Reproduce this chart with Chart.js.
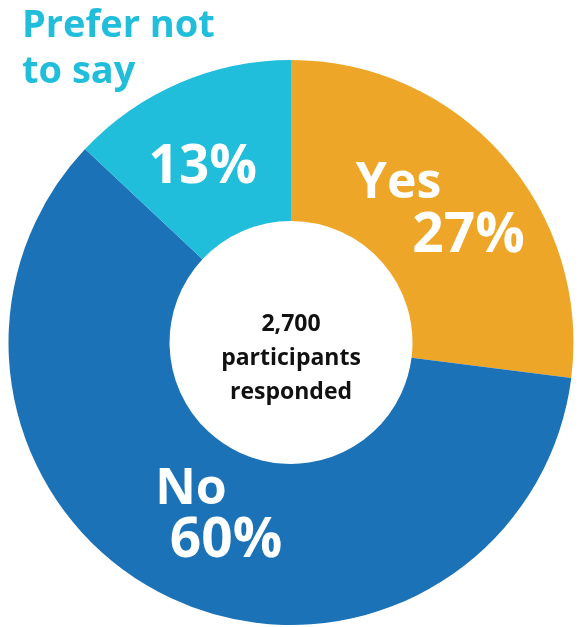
<!DOCTYPE html>
<html>
<head>
<meta charset="utf-8">
<script src="https://cdn.jsdelivr.net/npm/chart.js@4/dist/chart.umd.min.js"></script>
<style>
  html, body { margin: 0; padding: 0; background: #fff; }
  #wrap { width: 578px; height: 627px; position: relative; }
</style>
</head>
<body>
<div id="wrap"><canvas id="chart"></canvas></div>
<script>
// data
const categories = ['Yes', 'No', 'Prefer not to say'];
const shares = [27, 60, 13];
const colors = ['#EEA628', '#1B72B7', '#21BEDC'];
const centerLines = ['2,700', 'participants', 'responded'];

const FONT = '"Open Sans", "Noto Sans", sans-serif';

// label placement relative to each arc's centroid
const labelStyle = [
  [{ text: 'Yes', dx: -44, dy: -25, size: 50 }, { text: '27%', dx: 26, dy: 27, size: 55 }],
  [{ text: 'No', dx: -14, dy: -36, size: 50 }, { text: '60%', dx: 21, dy: 16, size: 55 }],
  [{ text: '13%', dx: -8, dy: 11, size: 53 }],
];

const sliceLabels = {
  id: 'sliceLabels',
  afterDatasetsDraw(chart) {
    const { ctx } = chart;
    const meta = chart.getDatasetMeta(0);
    ctx.save();
    ctx.textAlign = 'center';
    ctx.textBaseline = 'middle';
    ctx.fillStyle = '#fff';
    meta.data.forEach((arc, i) => {
      const p = arc.tooltipPosition();
      const pct = shares[i] + '%';
      labelStyle[i].forEach((l) => {
        ctx.font = 'bold ' + l.size + 'px ' + FONT;
        const txt = l.text.endsWith('%') ? pct : l.text;
        ctx.fillText(txt, p.x + l.dx, p.y + l.dy);
      });
    });

    // text in the hole
    const c = meta.data[0];
    ctx.fillStyle = '#111';
    ctx.font = 'bold 23px ' + FONT;
    centerLines.forEach((t, i) => {
      ctx.fillText(t, c.x, c.y + 16 + (i - 1) * 34);
    });

    // outside label for the small slice
    ctx.textAlign = 'left';
    ctx.textBaseline = 'alphabetic';
    ctx.fillStyle = colors[2];
    ctx.font = 'bold 38px ' + FONT;
    ctx.fillText('Prefer not', 22, 37);
    ctx.fillText('to say', 22, 83);
    ctx.restore();
  },
};

new Chart(document.getElementById('chart'), {
  type: 'doughnut',
  data: {
    labels: categories,
    datasets: [{
      data: shares,
      backgroundColor: colors,
      borderWidth: 0,
      hoverOffset: 0,
    }],
  },
  options: {
    responsive: true,
    maintainAspectRatio: false,
    animation: false,
    cutout: '43%',
    layout: { padding: { left: 8, right: 4, top: 60, bottom: 2 } },
    plugins: {
      legend: { display: false },
      tooltip: { enabled: false },
    },
  },
  plugins: [sliceLabels],
});
</script>
</body>
</html>
